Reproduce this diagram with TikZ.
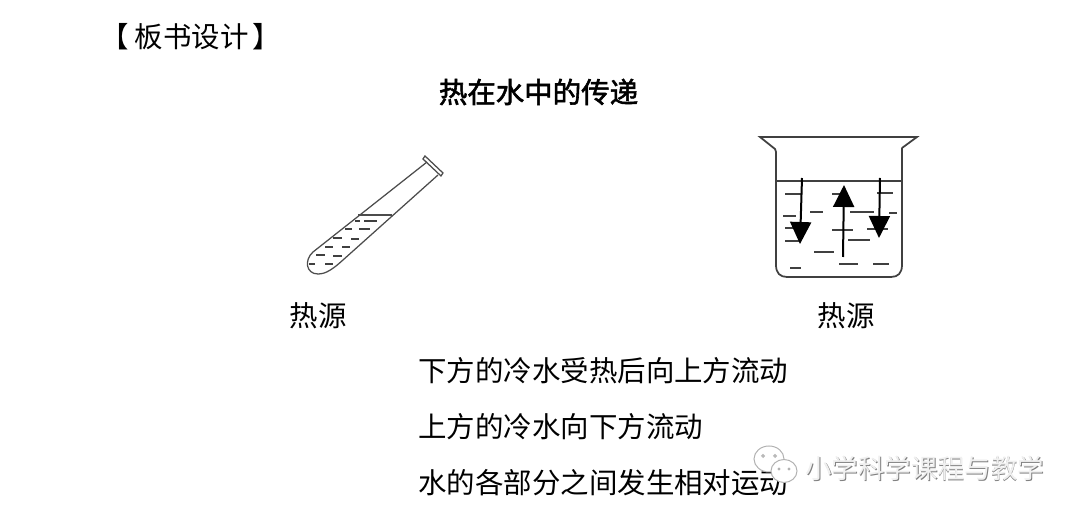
\documentclass[tikz,border=0pt]{standalone}
\usepackage{fontspec}
\setmainfont{Noto Sans CJK SC}
\usetikzlibrary{arrows.meta}
\tikzset{
	boardtext/.style={inner sep=0pt, font=\fontsize{16.2}{16.2}\selectfont},
	glassline/.style={line width=0.35mm, color=black!75},
	tubeline/.style={line width=0.25mm, color=black!70},
	waterdash/.style={line width=0.3mm, color=black!75},
	flowarrow/.style={line width=0.4mm, color=black, -{Triangle[length=4.4mm,width=4.2mm]}},
	marktext/.style={inner sep=0pt, font=\fontsize{15.1}{15.1}\selectfont},
	markbubble/.style={line width=0.2mm, color=black!30, fill=white}
}
\begin{document}
\begin{tikzpicture}[x=0.02cm, y=-0.02cm]
	\useasboundingbox (0, 0) rectangle (1080, 516);
	%%%%% TEXT %%%%%
	
	\node[boardtext, anchor=west] (heading) at (100, 37) {【\kern3.5pt 板书设计\kern2pt 】};
	\node[boardtext, anchor=center] (title) at (538.5, 92) {\addfontfeature{FakeBold=2}热在水中的传递};
	\node[boardtext] (sourceleft) at (318, 316) {热源};
	\node[boardtext] (sourceright) at (846, 316) {热源};
	\node[boardtext, anchor=west] (lineone) at (418, 371) {下方的冷水受热后向上方流动};
	\node[boardtext, anchor=west] (linetwo) at (418, 427) {上方的冷水向下方流动};
	\node[boardtext, anchor=west] (linethree) at (418, 483) {水的各部分之间发生相对运动};
	
	%%%%% TUBE %%%%%
	
	\draw[tubeline] (427, 162) -- (313, 252) .. controls (304, 260) and (306, 274) .. (318, 274) .. controls (326, 274) and (333, 269) .. (343, 260) -- (438, 175);
	\draw[tubeline] (425, 156) -- (443, 173) -- (441, 176) -- (423, 159) -- cycle;
	\draw[tubeline] (358, 215) -- (392, 215);
	
	\draw[waterdash] (355, 221) -- (360, 221);
	\draw[waterdash] (364, 221) -- (377, 221);
	\draw[waterdash] (345, 229) -- (352, 229);
	\draw[waterdash] (359, 229) -- (370, 229);
	\draw[waterdash] (333, 238) -- (342, 238);
	\draw[waterdash] (351, 239) -- (359, 239);
	\draw[waterdash] (325, 247) -- (333, 247);
	\draw[waterdash] (342, 247) -- (350, 247);
	\draw[waterdash] (316, 255) -- (325, 255);
	\draw[waterdash] (333, 256) -- (342, 256);
	\draw[waterdash] (309, 264) -- (315, 264);
	\draw[waterdash] (325, 264) -- (333, 264);
	
	%%%%% BEAKER %%%%%
	
	\draw[glassline] (902, 148) -- (917, 137) -- (760, 137) -- (775, 149) -- (776, 152) -- (776, 265) .. controls (776, 273) and (780, 277) .. (787, 277) -- (891, 277) .. controls (898, 277) and (902, 273) .. (902, 265) -- (902, 148);
	\draw[glassline, line width=0.25mm] (776, 181) -- (902, 181);
	
	\draw[waterdash] (785, 194) -- (802, 194);
	\draw[waterdash] (832, 194) -- (842, 194);
	\draw[waterdash] (877, 193) -- (893, 193);
	\draw[waterdash] (783, 216) -- (796, 216);
	\draw[waterdash] (810, 212) -- (823, 212);
	\draw[waterdash] (850, 212) -- (874, 212);
	\draw[waterdash] (889, 213) -- (897, 213);
	\draw[waterdash] (785, 228) -- (800, 228);
	\draw[waterdash] (832, 230) -- (853, 230);
	\draw[waterdash] (867, 229) -- (888, 229);
	\draw[waterdash] (785, 241) -- (800, 241);
	\draw[waterdash] (848, 240) -- (870, 240);
	\draw[waterdash] (814, 252) -- (834, 252);
	\draw[waterdash] (839, 264) -- (858, 264);
	\draw[waterdash] (873, 264) -- (889, 264);
	\draw[waterdash] (790, 268) -- (801, 268);
	
	\draw[flowarrow] (802, 178) -- (800, 244);
	\draw[flowarrow] (843, 257) -- (844, 185);
	\draw[flowarrow] (880, 178) -- (879, 238);
	
	%%%%% WATERMARK %%%%%
	
	\draw[markbubble] (769, 459) ellipse (15 and 13);
	\draw[markbubble] (784, 471) ellipse (13 and 11.5);
	\draw[markbubble] (763, 456) circle (1.3);
	\draw[markbubble] (775, 456) circle (1.3);
	\draw[markbubble] (779, 469) circle (1);
	\draw[markbubble] (789, 469) circle (1);
	
	\node[marktext, anchor=west, color=black!50] (markshadow) at (805.8, 469) {小学科学课程与教学};
	\node[marktext, anchor=west, color=black!6] (marktitle) at (805, 468) {小学科学课程与教学};
	
	%%%%% END %%%%%
\end{tikzpicture}
\end{document}
